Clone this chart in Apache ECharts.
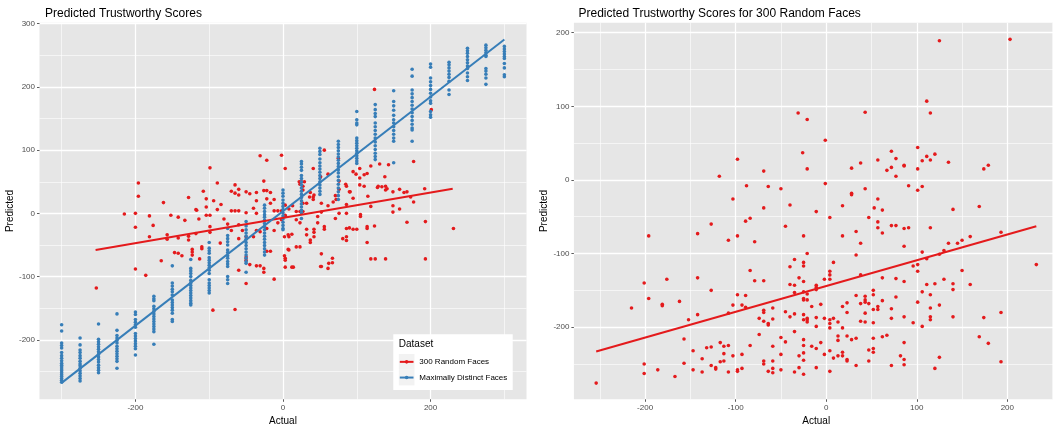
<!DOCTYPE html>
<html>
<head>
<meta charset="utf-8">
<script src="https://cdn.jsdelivr.net/npm/echarts@6/dist/echarts.min.js"></script>
<style>
    html, body { margin: 0; padding: 0; background: #fff; }
    #chart { width: 1053px; height: 425px; }
</style>
</head>
<body>
<div id="chart"></div>
<script>
    // Maximally distinct faces: actual score columns and predicted values per column
    const distinctX = [-300, -275, -250, -225, -200, -175, -150, -125, -100, -75, -50, -25, 0,
        25, 50, 75, 100, 125, 150, 175, 200, 225, 250, 275, 300];
    const distinctY = [
        [-176, -186, -205, -209, -213, -220, -225, -229, -233, -237, -240, -243, -246, -249, -252, -255, -258, -261, -264, -267],
        [-197, -208, -216, -220, -225, -229, -234, -238, -241, -245, -249, -253, -257, -261, -265],
        [-175, -199, -203, -207, -211, -215, -219, -223, -227, -231, -235, -240, -244, -248, -252],
        [-159, -185, -193, -197, -201, -205, -210, -214, -218, -222, -226, -230, -234, -245],
        [-156, -160, -168, -172, -176, -180, -190, -194, -198, -202, -206, -210, -214, -224],
        [-131, -135, -138, -147, -151, -155, -159, -163, -167, -171, -175, -179, -183, -187, -207],
        [-83, -110, -115, -120, -124, -129, -137, -141, -145, -149, -153, -158, -168, -171],
        [-73, -87, -91, -95, -100, -106, -110, -114, -118, -122, -126, -130, -134, -138, -142, -145],
        [-46, -55, -59, -63, -70, -74, -78, -82, -86, -90, -95, -105, -110, -114, -118, -122, -126],
        [-24, -35, -40, -45, -50, -58, -62, -67, -71, -76, -80, -84, -100, -105, -111],
        [-13, -20, -26, -31, -36, -41, -46, -51, -56, -61, -66, -71, -76, -79, -93],
        [13, 8, 3, -2, -6, -11, -16, -21, -26, -31, -36, -41, -46, -51, -56, -61, -66],
        [37, 32, 27, 21, 16, 11, 6, 1, -4, -9, -14, -19, -24, -26],
        [82, 78, 73, 68, 60, 55, 50, 45, 40, 35, 30, 25, 20, 15, 10, 5, 1, -8],
        [103, 98, 93, 86, 80, 75, 70, 65, 60, 55, 50, 45, 40, 35, 30],
        [114, 109, 104, 99, 94, 89, 84, 79, 74, 69, 64, 58, 52, 46, 40, 34, 28, 22],
        [161, 148, 143, 140, 119, 115, 111, 107, 103, 99, 95, 91, 87, 83, 79],
        [172, 164, 158, 153, 143, 137, 131, 125, 119, 113, 107, 101, 95, 90, 85],
        [194, 177, 170, 163, 155, 148, 143, 137, 131, 125, 119, 114, 80],
        [228, 217, 195, 189, 183, 177, 171, 165, 159, 153, 147, 141, 135, 132, 114],
        [236, 231, 214, 208, 202, 196, 190, 184, 178, 174, 161, 156, 152],
        [239, 235, 230, 225, 220, 215, 209, 195, 188],
        [261, 257, 253, 248, 243, 238, 233, 229, 222, 216, 210],
        [266, 262, 258, 254, 250, 248, 229, 225, 220, 214, 204],
        [264, 260, 256, 252, 248, 245, 237, 230, 219, 216]
    ];

    // 300 random faces, first model (left panel): [actual, predicted]
    const randomLeft = [
        [-196, 48], [-196, 27], [-162, 17], [-128, 25], [-108, 35], [-104, 23], [-99, 72], [-94, 20], [-89, 48], [-84, 14],
        [-70, 35], [-65, 45], [-65, 32], [-60, 38], [-60, 29], [-50, 34], [-45, 31], [-36, 33], [-36, 20], [-31, 91],
        [-26, 51], [-26, 36], [-22, 84], [-22, 36], [-17, 33], [-22, 23], [-2, 92], [-117, 5], [-118, 6], [-104, 10],
        [-89, 6], [-70, 4], [-65, 4], [-60, 4], [-50, 1], [-40, 8], [-36, 0], [-17, 16], [-12, 4], [-7, 4],
        [-12, 22], [-2, 4], [-200, 0], [-215, -1],
        [-200, -22], [-181, -4], [-181, -37], [-176, -19], [-157, -34], [-157, -41], [-152, -3], [-147, -62], [-142, -6], [-142, -39],
        [-142, -63], [-137, -67], [-133, -11], [-128, -36], [-128, -42], [-123, -57], [-123, -61], [-123, -66], [-118, -32], [-114, -9],
        [-110, -53], [-110, -56], [-104, -3], [-99, -3], [-99, -21], [-99, -30], [-85, -47], [-80, -9], [-75, -17], [-70, -27],
        [-60, -18], [-55, -27], [-36, -27], [-31, -29], [-22, -24], [-12, -27], [-50, -69], [-45, -81], [-36, -83], [-31, -83],
        [-26, -87], [-26, -93], [-165, -75], [-200, -88], [-186, -98], [-253, -118], [-113, -72], [-95, -153], [-65, -152], [-60, -90],
        [-50, -111], [-50, -74], [-12, -104], [-22, -60], [-17, -60], [-60, -40], [-50, -37], [-40, -37], [-2, -10], [-7, -15],
        [3, 71], [3, 13], [22, 50], [25, 50], [29, 50], [41, 71], [56, 100], [51, 58], [37, 33], [41, 26],
        [41, 22], [61, 62], [75, 87], [85, 46], [90, 34], [95, 66], [99, 62], [104, 71], [110, 61], [114, 63],
        [119, 75], [124, 196], [131, 78], [138, 58], [128, 41], [134, 42], [141, 39], [149, 34], [158, 38], [164, 33],
        [168, 34], [177, 82], [177, 18], [192, 39], [201, 164], [72, 22], [68, 18],
        [3, -3], [3, -5], [8, 7], [8, -37], [8, -58], [3, -71], [3, -74], [3, -85], [14, -85], [13, 12],
        [18, 3], [23, 3], [18, -10], [23, -15], [18, -53], [23, -53], [27, 43], [27, 37], [23, 46], [27, 16],
        [32, 16], [27, 3], [32, -25], [32, -34], [36, 26], [42, 29], [42, -25], [42, -30], [42, -37], [47, -5],
        [47, -15], [52, -64], [52, -84], [52, 16], [52, 2], [56, -21], [56, -25], [61, 12], [62, -79], [67, -78],
        [67, -71], [71, 28], [71, -8], [76, 51], [76, 38], [76, 0], [86, 43], [86, 14], [86, 0], [86, -24],
        [86, -37], [86, -43], [91, 34], [90, -23], [95, -25], [100, -25], [95, 24], [104, 56], [104, 45], [110, 43],
        [115, 27], [119, 11], [105, -2], [105, -5], [114, -21], [114, -24], [114, -46], [119, -72], [125, -72], [124, -20],
        [129, 43], [139, 43], [139, 37], [143, 77], [149, 12], [168, -14], [173, 26], [193, -13], [193, -72], [139, -72],
        [231, -24], [2, -67], [7, -57], [2, -37], [7, -34], [12, -33], [37, -42], [37, -46], [51, -84], [61, -87],
        [81, -40], [149, 2], [158, 7], [12, -85]
    ];

    // 300 random faces, second model (right panel): [actual, predicted]
    const randomRight = [
        [-118, 5], [-98, 28], [-103, -26], [-88, -8], [-69, 12], [-64, -9], [-69, -38], [-50, -12], [-40, -34], [-31, 91],
        [-21, 82], [-26, 37], [-21, 15], [-11, -43], [-1, 54], [-1, -5], [18, -35], [28, 16], [28, -18], [28, -20],
        [38, 23], [43, 92], [43, -12], [53, -38], [57, 27], [57, -26], [62, -41], [67, 13], [72, 39], [72, 17],
        [77, 29], [77, 5], [86, 20], [86, 19], [91, -8], [101, 44], [101, 15], [101, -14], [106, 26], [106, -9],
        [111, 107], [111, 32], [115, 91], [115, 27], [120, 35], [125, 189], [135, 24], [140, -40], [169, -36], [174, 15],
        [179, 20], [203, 191],
        [-196, -76], [-201, -140], [-196, -161], [-215, -174], [-176, -135], [-181, -169], [-181, -171], [-162, -165], [-152, -190], [-157, -216],
        [-147, -232], [-157, -249], [-147, -258], [-137, -243], [-137, -261], [-142, -73], [-142, -133], [-142, -183], [-127, -60], [-127, -150],
        [-132, -228], [-127, -227], [-127, -252], [-122, -255], [-122, -257], [-117, -221], [-117, -247], [-113, -226], [-113, -236], [-113, -246],
        [-108, -82], [-108, -181], [-108, -225], [-108, -261], [-103, -170], [-103, -239], [-98, -76], [-98, -156], [-98, -258], [-98, -260],
        [-93, -170], [-93, -237], [-93, -256], [-89, -56], [-84, -52], [-89, -157], [-89, -173], [-84, -123], [-84, -225], [-79, -84],
        [-79, -137], [-74, -188], [-74, -210], [-69, -137], [-69, -177], [-69, -180], [-69, -192], [-69, -246], [-69, -250], [-64, -195],
        [-64, -197], [-64, -260], [-59, -174], [-59, -189], [-59, -226], [-59, -246], [-59, -256], [-59, -262], [-50, -214], [-50, -237],
        [-50, -258], [-45, -63], [-45, -179], [-45, -220], [-40, -118], [-40, -186], [-40, -142], [-35, -108], [-35, -143], [-35, -153],
        [-35, -182], [-35, -206], [-35, -261], [-30, -133], [-30, -239], [-30, -255], [-25, -76], [-25, -112], [-25, -117], [-25, -138],
        [-25, -152], [-25, -161], [-25, -163], [-25, -183], [-25, -190], [-25, -217], [-25, -225], [-25, -235], [-25, -245], [-25, -264],
        [-21, -100], [-21, -155], [-21, -163], [-21, -188], [-21, -190], [-21, -193], [-16, -172], [-16, -226], [-11, -143], [-11, -146],
        [-11, -149], [-11, -187], [-11, -199], [-11, -229], [-11, -255], [-6, -169], [-6, -221], [-2, -135], [-2, -188], [-2, -237],
        [4, -51], [4, -124], [4, -129], [4, -135], [4, -190], [4, -195], [4, -201], [4, -232], [4, -260], [8, -112],
        [8, -188], [8, -242], [13, -193], [13, -212], [13, -218], [13, -239], [18, -76], [18, -172], [18, -201], [18, -234],
        [18, -239], [23, -167], [23, -180], [23, -212], [23, -244], [23, -246], [28, -217], [33, -70], [33, -102], [33, -157],
        [33, -215], [33, -252], [38, -86], [38, -129], [38, -168], [38, -192], [43, -158], [43, -163], [43, -166], [43, -181],
        [43, -193], [47, -51], [47, -168], [47, -231], [47, -246], [52, -150], [52, -156], [52, -176], [52, -194], [52, -215],
        [52, -229], [52, -234], [57, -57], [57, -65], [57, -172], [57, -176], [62, -72], [62, -133], [62, -164], [62, -213],
        [67, -211], [72, -62], [72, -175], [72, -188], [72, -252], [77, -62], [77, -134], [77, -159], [82, -239], [86, -66],
        [86, -90], [86, -138], [86, -186], [86, -221], [86, -244], [86, -251], [91, -65], [96, -194], [96, -117], [101, -115],
        [101, -124], [101, -166], [106, -98], [106, -152], [106, -199], [111, -107], [111, -142], [115, -65], [115, -156], [115, -174],
        [115, -186], [115, -190], [120, -141], [120, -256], [125, -101], [125, -170], [125, -241], [130, -96], [130, -135], [135, -86],
        [140, -141], [140, -149], [140, -186], [145, -86], [150, -82], [150, -123], [159, -77], [159, -142], [174, -187], [169, -213],
        [179, -222], [193, -71], [193, -180], [193, -247], [232, -115], [-254, -276], [-201, -250], [-201, -263], [-186, -258], [-167, -267]
    ];

    // linear fits (end points)
    const distinctFit = [[-300, -268], [300, 275]];
    const randomFitLeft = [[-254, -58], [230, 39]];
    const randomFitRight = [[-254, -233], [232, -63]];

    // axis ranges and ticks
    const leftXRange = [-330, 330];
    const leftYRange = [-294, 301.5];
    const rightXRange = [-278.6, 256.6];
    const rightYRange = [-298, 213.6];
    const leftXMajor = [-200, 0, 200];
    const leftXMinor = [-300, -100, 100, 300];
    const leftYMajor = [-200, -100, 0, 100, 200, 300];
    const leftYMinor = [-250, -150, -50, 50, 150, 250];
    const rightXMajor = [-200, -100, 0, 100, 200];
    const rightXMinor = [-250, -150, -50, 50, 150, 250];
    const rightYMajor = [-200, -100, 0, 100, 200];
    const rightYMinor = [-250, -150, -50, 50, 150];

    const legendNames = ['300 Random Faces', 'Maximally Distinct Faces'];

    const RED = '#E41A1C';
    const BLUE = '#377EB8';
    const FONT = '"Liberation Sans", Arial, Helvetica, sans-serif';

    const distinctData = [];
    distinctX.forEach(function (x, i) {
        distinctY[i].forEach(function (y) { distinctData.push([x, y]); });
    });

    function majorAxis(grid, range, ticks, name, isY) {
        return {
            type: 'value', gridIndex: grid, min: range[0], max: range[1],
            position: isY ? 'left' : 'bottom',
            name: name, nameLocation: 'middle', nameGap: isY ? 23 : 14,
            nameTextStyle: { color: '#000', fontSize: 10, fontFamily: FONT },
            axisLine: { show: false, onZero: false },
            axisTick: { show: true, length: 2.5, customValues: ticks, lineStyle: { color: '#333', width: 0.8 } },
            axisLabel: { show: true, customValues: ticks, margin: 4.5, color: '#4D4D4D', fontSize: 8, fontFamily: FONT },
            splitLine: { show: true, lineStyle: { color: '#fff', width: 1.3 } }
        };
    }
    function minorAxis(grid, range, ticks, isY) {
        return {
            type: 'value', gridIndex: grid, min: range[0], max: range[1],
            position: isY ? 'left' : 'bottom',
            axisLine: { show: false, onZero: false },
            axisTick: { show: false, customValues: ticks },
            axisLabel: { show: false, customValues: ticks },
            splitLine: { show: true, lineStyle: { color: '#fff', width: 0.6 } }
        };
    }

    function legendGraphic() {
        const x0 = 393.3, y0 = 334.3;
        const items = [];
        items.push({ type: 'rect', z: 10, shape: { x: x0, y: y0, width: 119.4, height: 55.7 }, style: { fill: '#fff' } });
        items.push({ type: 'text', z: 11, x: x0 + 5.5, y: y0 + 10, style: { text: 'Dataset', fill: '#000', fontSize: 10, fontFamily: FONT, verticalAlign: 'middle' } });
        [RED, BLUE].forEach(function (c, i) {
            const ky = y0 + 19.7 + i * 15.7;
            items.push({ type: 'rect', z: 11, shape: { x: x0 + 5.5, y: ky, width: 15.7, height: 15.7 }, style: { fill: '#F2F2F2' } });
            items.push({ type: 'line', z: 12, shape: { x1: x0 + 6.5, y1: ky + 7.85, x2: x0 + 20.2, y2: ky + 7.85 }, style: { stroke: c, lineWidth: 2 } });
            items.push({ type: 'circle', z: 12, shape: { cx: x0 + 13.35, cy: ky + 7.85, r: 1.8 }, style: { fill: c } });
            items.push({ type: 'text', z: 12, x: x0 + 26, y: ky + 7.85, style: { text: legendNames[i], fill: '#000', fontSize: 8, fontFamily: FONT, verticalAlign: 'middle' } });
        });
        return items;
    }

    const option = {
        animation: false,
        backgroundColor: '#fff',
        title: [
            { text: 'Predicted Trustworthy Scores', left: 40, top: 3, textStyle: { fontSize: 12, fontWeight: 'normal', color: '#000', fontFamily: FONT } },
            { text: 'Predicted Trustworthy Scores for 300 Random Faces', left: 573.5, top: 3, textStyle: { fontSize: 12, fontWeight: 'normal', color: '#000', fontFamily: FONT } }
        ],
        grid: [
            { left: 39.5, top: 22.7, width: 487, height: 376.6, show: true, backgroundColor: '#E6E6E6', borderWidth: 0, outerBoundsMode: 'none' },
            { left: 573.9, top: 22.7, width: 484.7, height: 376.6, show: true, backgroundColor: '#E6E6E6', borderWidth: 0, outerBoundsMode: 'none' }
        ],
        xAxis: [
            minorAxis(0, leftXRange, leftXMinor, false),
            majorAxis(0, leftXRange, leftXMajor, 'Actual', false),
            minorAxis(1, rightXRange, rightXMinor, false),
            majorAxis(1, rightXRange, rightXMajor, 'Actual', false)
        ],
        yAxis: [
            minorAxis(0, leftYRange, leftYMinor, true),
            majorAxis(0, leftYRange, leftYMajor, 'Predicted', true),
            minorAxis(1, rightYRange, rightYMinor, true),
            majorAxis(1, rightYRange, rightYMajor, 'Predicted', true)
        ],
        series: [
            { name: legendNames[0], type: 'scatter', xAxisIndex: 1, yAxisIndex: 1, data: randomLeft, symbolSize: 3.6, itemStyle: { color: RED, opacity: 1 }, z: 3 },
            { name: legendNames[1], type: 'scatter', xAxisIndex: 1, yAxisIndex: 1, data: distinctData, symbolSize: 3.6, itemStyle: { color: BLUE, opacity: 1 }, z: 3 },
            { type: 'line', xAxisIndex: 1, yAxisIndex: 1, data: randomFitLeft, showSymbol: false, lineStyle: { color: RED, width: 2 }, z: 4 },
            { type: 'line', xAxisIndex: 1, yAxisIndex: 1, data: distinctFit, showSymbol: false, lineStyle: { color: BLUE, width: 2 }, z: 4 },
            { type: 'scatter', xAxisIndex: 3, yAxisIndex: 3, data: randomRight, symbolSize: 3.6, itemStyle: { color: RED, opacity: 1 }, z: 3 },
            { type: 'line', xAxisIndex: 3, yAxisIndex: 3, data: randomFitRight, showSymbol: false, lineStyle: { color: RED, width: 2 }, z: 4 }
        ],
        graphic: legendGraphic()
    };

    const chart = echarts.init(document.getElementById('chart'));
    chart.setOption(option);
</script>
</body>
</html>
